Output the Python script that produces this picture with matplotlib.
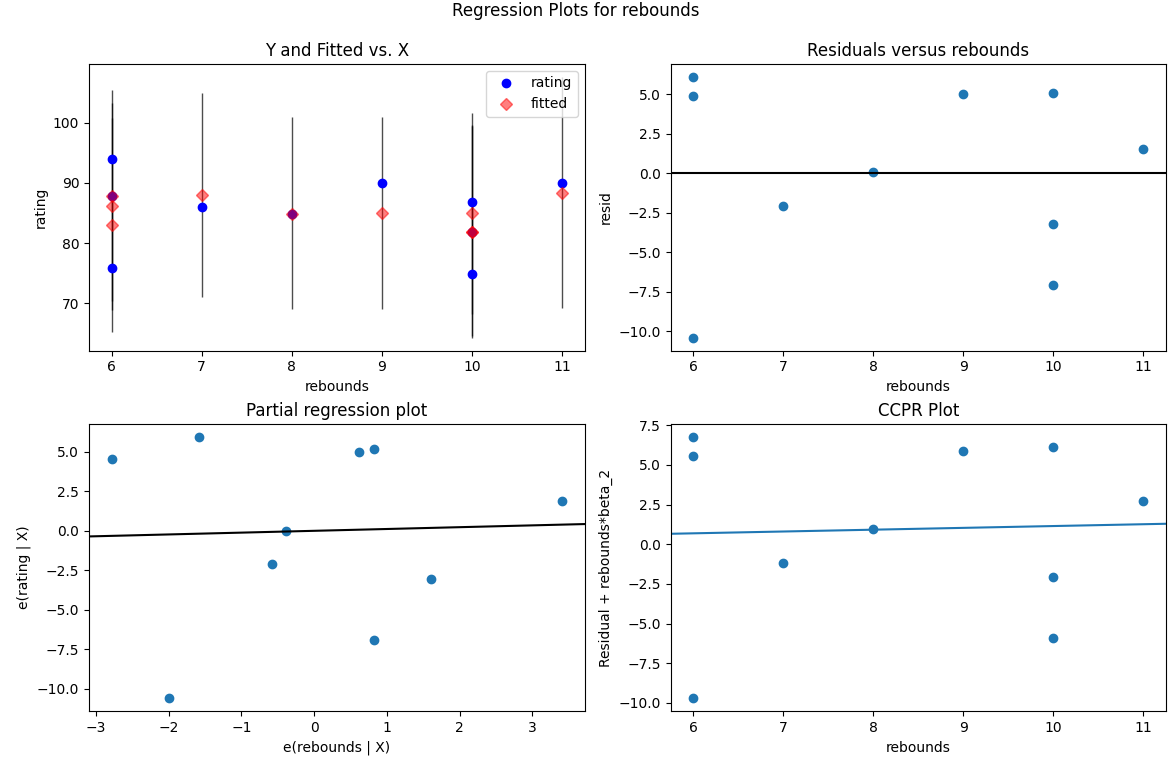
import numpy as np
import matplotlib
matplotlib.use('Agg')
import matplotlib.pyplot as plt

# one row per observation
rebounds = [6, 6, 6, 7, 8, 9, 10, 10, 10, 11]
rating = [94.0, 87.9, 75.8, 86.0, 84.8, 90.0, 86.9, 81.9, 74.9, 90.0]
fitted = [87.9, 83.0, 86.2, 88.0, 84.8, 85.0, 81.9, 85.0, 81.9, 88.4]
pred_low = [70.4, 65.2, 68.9, 71.0, 69.1, 69.1, 64.3, 68.3, 64.5, 69.3]
pred_high = [105.4, 100.8, 103.3, 105.0, 100.9, 100.9, 99.6, 101.7, 99.4, 107.6]
resid = [6.08, 4.88, -10.42, -2.08, 0.06, 4.99, 5.05, -3.20, -7.07, 1.54]
ccpr = [6.76, 5.55, -9.71, -1.20, 0.95, 5.90, 6.16, -2.06, -5.92, 2.73]

# partial regression residuals
e_rebounds = [-2.785, -1.997, -1.584, -0.583, -0.384, 0.617, 0.816, 0.816, 1.603, 3.406]
e_rating = [4.56, -10.59, 5.93, -2.07, 0.00, 5.00, 5.15, -6.90, -3.04, 1.90]

ex = np.array(e_rebounds)
ey = np.array(e_rating)
beta = (ex * ey).sum() / (ex ** 2).sum()

fig = plt.figure(figsize=(11.73, 7.67), dpi=100)
W, H = 1173.0, 767.0

def place(l, r, t, b):
    return fig.add_axes([l / W, 1 - b / H, (r - l) / W, (b - t) / H])

ax1 = place(89, 584.5, 64, 350.7)
ax2 = place(670.5, 1166, 64, 350.7)
ax3 = place(89, 584.5, 424, 711.3)
ax4 = place(670.5, 1166, 424, 711.3)

# Y and fitted vs X
ax1.vlines(rebounds, pred_low, pred_high, linewidth=1, color='k', alpha=.7, zorder=1)
ax1.plot(rebounds, rating, 'bo', label='rating')
ax1.plot(rebounds, fitted, 'D', color='r', alpha=.5, label='fitted')
ax1.set_title('Y and Fitted vs. X')
ax1.set_xlabel('rebounds')
ax1.set_ylabel('rating')
ax1.legend(loc='upper right', numpoints=1)

# residuals
ax2.plot(rebounds, resid, 'o')
ax2.axhline(y=0, color='black')
ax2.set_title('Residuals versus rebounds')
ax2.set_xlabel('rebounds')
ax2.set_ylabel('resid')

# partial regression
ax3.plot(e_rebounds, e_rating, 'o')
ax3.axline((0, 0), slope=beta, color='k')
ax3.set_title('Partial regression plot')
ax3.set_xlabel('e(rebounds | X)')
ax3.set_ylabel('e(rating | X)')

# CCPR
ax4.plot(rebounds, ccpr, 'o')
ax4.axline((8, 8 * beta), slope=beta, color='C0')
ax4.set_title('CCPR Plot')
ax4.set_xlabel('rebounds')
ax4.set_ylabel('Residual + rebounds*beta_2')

fig.suptitle('Regression Plots for rebounds', x=0.491, y=0.998, va='top')

fig.savefig('out.png', dpi=100)
